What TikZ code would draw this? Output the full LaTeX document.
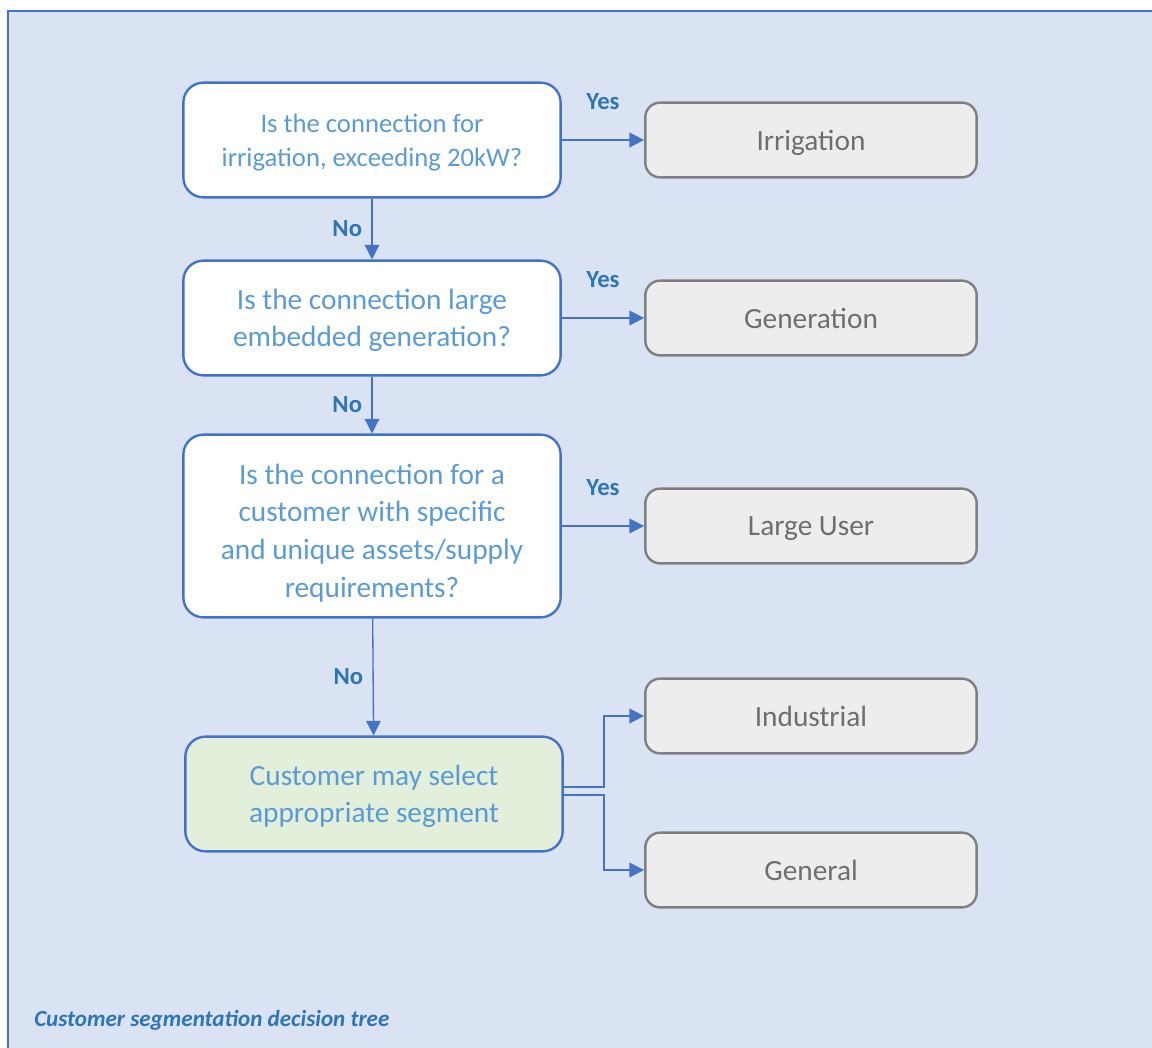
\documentclass[tikz,border=0pt]{standalone}
\usepackage{fontspec}
\setmainfont{Carlito}
\usetikzlibrary{arrows.meta,positioning}
\definecolor{panel}{HTML}{DAE3F3}
\definecolor{edgeblue}{HTML}{4472C4}
\definecolor{asktext}{HTML}{5B9BD5}
\definecolor{labelblue}{HTML}{2E75B6}
\definecolor{boxgrey}{HTML}{EDEDED}
\definecolor{linegrey}{HTML}{7F7F7F}
\definecolor{textgrey}{HTML}{6E6E6E}
\definecolor{choicegreen}{HTML}{E2EFDA}
\begin{document}
\begin{tikzpicture}[
                    x=0.75pt, y=-0.75pt,
                    >={Triangle[length=11pt,width=11pt]},
                    question/.style={rectangle, rounded corners=15pt, draw=edgeblue, line width=1.8pt, fill=white, text=asktext, align=center, text depth=0pt, minimum width=283pt, minimum height=86pt, font=\fontsize{22}{28}\selectfont},
                    choice/.style={question, fill=choicegreen},
                    outcome/.style={rectangle, rounded corners=11pt, draw=linegrey, line width=1.8pt, fill=boxgrey, text=textgrey, text depth=0pt, minimum width=248.5pt, minimum height=56pt, font=\fontsize{22}{28}\selectfont},
                    link/.style={->, draw=edgeblue, line width=1pt},
                    ans/.style={text=labelblue, font=\fontsize{18.5}{22}\selectfont\bfseries}
                ]
                \useasboundingbox (0,0) rectangle (1152,1048);
                % Panel
                \fill [panel] (8,11) rectangle (1152,1048);
                \draw [edgeblue, line width=1.5pt] (1152,11) -- (8,11) -- (8,1048);

                % Blocks
                \node [question, font=\fontsize{20}{25.5}\selectfont] (q1) at (372,140) {Is the connection for\\irrigation, exceeding 20kW?};
                \node [question] (q2) at (372,318) {Is the connection large\\embedded generation?};
                \node [question, minimum height=137pt, text height=107pt, font=\fontsize{22}{28.3}\selectfont] (q3) at (372,526) {Is the connection for a\\customer with specific\\and unique assets/supply\\requirements?};
                \node [choice] (sel) at (374,794) {Customer may select\\appropriate segment};
                \node [outcome] (irr) at (811,140) {Irrigation};
                \node [outcome] (gen) at (811,318) {Generation};
                \node [outcome] (big) at (811,526) {Large User};
                \node [outcome] (ind) at (811,716) {Industrial};
                \node [outcome] (gnl) at (811,870) {General};
                \node [anchor=west, inner sep=0pt, text=labelblue, font=\fontsize{17.3}{20}\selectfont\bfseries\itshape] (cap) at (34,1020) {Customer segmentation decision tree};

                % Connections
                \draw [link] (q1) --node[ans, left, inner sep=7pt]{No} (q2);
                \draw [link] (q2) --node[ans, left, inner sep=7pt]{No} (q3);
                \draw [link] (q3) --node[ans, left, inner sep=7pt]{No} (sel);
                \draw [link] (q1) --node[ans, above=19pt]{Yes} (irr);
                \draw [link] (q2) --node[ans, above=19pt]{Yes} (gen);
                \draw [link] (q3) --node[ans, above=19pt]{Yes} (big);
                \draw [link] ([yshift=5.25pt]sel.east) -- ++(40,0) |- (ind.west);
                \draw [link] ([yshift=-0.75pt]sel.east) -- ++(40,0) |- (gnl.west);
            \end{tikzpicture}
\end{document}
